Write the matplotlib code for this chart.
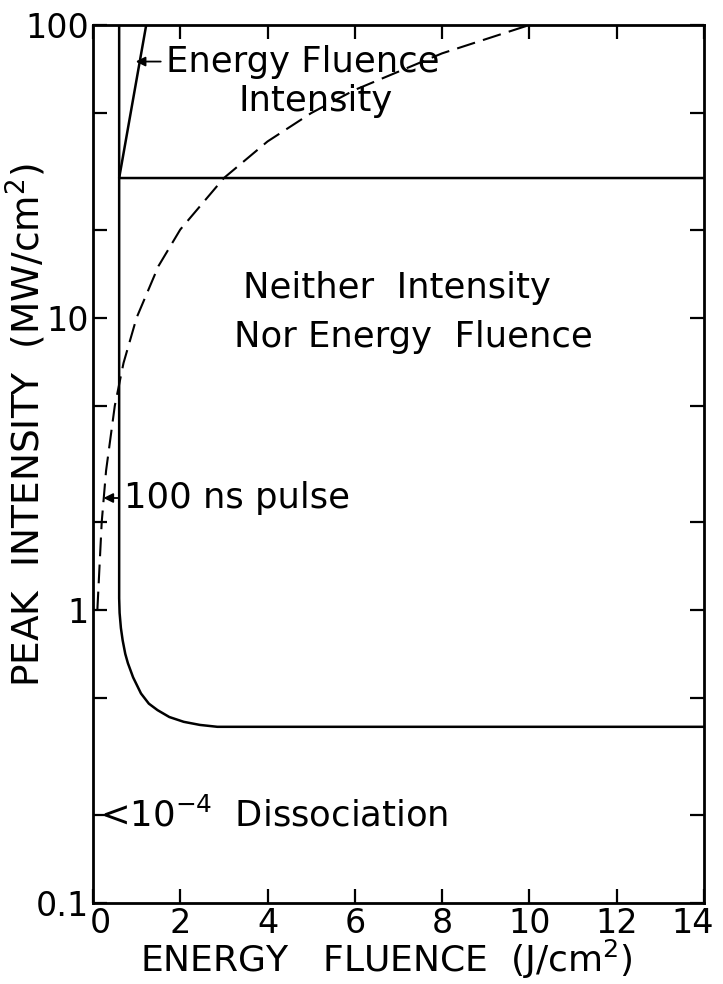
"""Peak intensity vs energy fluence regimes — recreated figure."""

import matplotlib
matplotlib.use("Agg")
import matplotlib.pyplot as plt
from matplotlib.ticker import NullFormatter
from matplotlib.transforms import ScaledTranslation

# boundary: vertical edge that bends into the low-intensity floor
LOWER_X = [0.60, 0.60, 0.61, 0.64, 0.68, 0.74, 0.80, 0.92, 1.10, 1.28, 1.48, 1.75, 2.08, 2.45, 2.85, 14.0]
LOWER_Y = [100, 1.1, 0.98, 0.87, 0.79, 0.71, 0.66, 0.59, 0.52, 0.48, 0.456, 0.432, 0.416, 0.406, 0.40, 0.40]

# intensity threshold and the energy-fluence edge above it
UPPER_X = [14.0, 0.60, 1.22]
UPPER_Y = [30, 30, 100]

# 100 ns pulse (dashed)
PULSE_X = [0.10, 0.20, 0.30, 0.50, 0.70, 1.0, 1.5, 2.0, 3.0, 4.0, 5.0, 6.0, 8.0, 10.0]
PULSE_Y = [1.0, 2.0, 3.0, 5.0, 7.0, 10, 15, 20, 30, 40, 50, 60, 80, 100]

X_TICKS = [0, 2, 4, 6, 8, 10, 12, 14]
Y_TICKS = [0.1, 1, 10, 100]
Y_TICK_LABELS = ["0.1", "1", "10", "100"]
Y_MINOR = [0.2, 0.5, 2, 5, 20, 50]

plt.rcParams["font.family"] = ["DejaVu Sans"]

fig = plt.figure(figsize=(7.23, 9.84), dpi=100)
ax = fig.add_axes([0.1286, 0.0823, 0.845, 0.8923])

ax.plot(LOWER_X, LOWER_Y, color="black", lw=1.8)
ax.plot(UPPER_X, UPPER_Y, color="black", lw=1.8)
ax.plot(PULSE_X, PULSE_Y, color="black", lw=1.5, dashes=(9, 4))

ax.set_yscale("log")
ax.set_xlim(0, 14)
ax.set_ylim(0.1, 100)
ax.set_xticks(X_TICKS)
ax.set_xticklabels([str(t) for t in X_TICKS])
ax.set_yticks(Y_TICKS)
ax.set_yticklabels(Y_TICK_LABELS)
ax.set_yticks(Y_MINOR, minor=True)
ax.yaxis.set_minor_formatter(NullFormatter())
ax.tick_params(which="both", direction="in", top=True, right=True,
               length=10, width=1.6, labelsize=24, pad=3)
for sp in ax.spines.values():
    sp.set_linewidth(2.0)

# nudge the end labels so "0" clears "0.1" a little and "14" stays on the page
xlabels = ax.get_xticklabels()
xlabels[0].set_transform(xlabels[0].get_transform() + ScaledTranslation(5 / 72, 0, fig.dpi_scale_trans))
xlabels[-1].set_transform(xlabels[-1].get_transform() + ScaledTranslation(-8 / 72, 0, fig.dpi_scale_trans))

fig.text(26 / 723, 1 - 425 / 984, "PEAK  INTENSITY  (MW/cm$^2$)", rotation=90,
         ha="center", va="center", fontsize=27)
fig.text(386 / 723, 1 - 959 / 984, "ENERGY   FLUENCE  (J/cm$^2$)",
         ha="center", va="center", fontsize=26)

txt = dict(fontsize=25.5, color="black")
arrow = dict(arrowstyle="-|>", color="black", lw=1.3, mutation_scale=14,
             shrinkA=2, shrinkB=0)
ax.annotate("Energy Fluence", xy=(0.98, 75), xytext=(1.68, 75),
            va="center", ha="left", arrowprops=arrow, **txt)
ax.text(5.1, 55, "Intensity", ha="center", va="center", **txt)
ax.text(6.97, 12.6, "Neither  Intensity", ha="center", va="center", **txt)
ax.text(7.35, 8.6, "Nor Energy  Fluence", ha="center", va="center", **txt)
ax.annotate("100 ns pulse", xy=(0.24, 2.42), xytext=(0.72, 2.42),
            va="center", ha="left", arrowprops=arrow, **txt)
ax.text(0.15, 0.2, r"<10$^{-4}$  Dissociation", ha="left", va="center", **txt)

fig.savefig("out.png", dpi=100)
